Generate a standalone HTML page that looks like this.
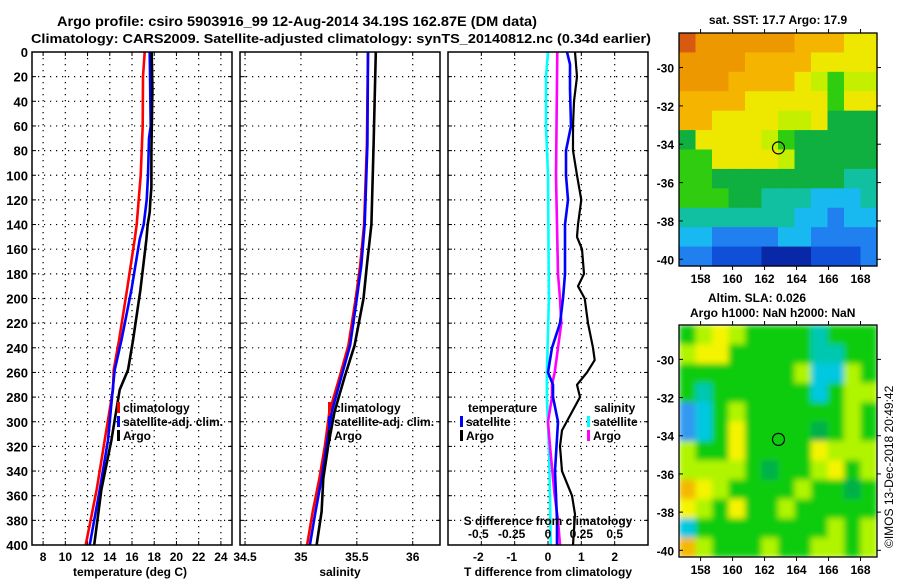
<!DOCTYPE html>
<html><head><meta charset="utf-8"><style>
body{margin:0;background:#fff;}
svg{display:block;font-family:"Liberation Sans",sans-serif;font-weight:bold;}
</style></head><body>
<svg id="c" width="900" height="580" viewBox="0 0 900 580">
<defs>
<filter id="bl" x="0" y="0" width="1" height="1"><feGaussianBlur stdDeviation="3" edgeMode="duplicate"/></filter>
<clipPath id="cm2"><rect x="679" y="325" width="198" height="232"/></clipPath>
</defs>
<text x="57" y="26" font-size="13.5" textLength="480" lengthAdjust="spacingAndGlyphs">Argo profile: csiro 5903916_99 12-Aug-2014 34.19S 162.87E (DM data)</text>
<text x="31" y="43" font-size="13" textLength="620" lengthAdjust="spacingAndGlyphs">Climatology: CARS2009. Satellite-adjusted climatology: synTS_20140812.nc (0.34d earlier)</text>
<text x="778" y="24" text-anchor="middle" font-size="12">sat. SST: 17.7 Argo: 17.9</text>
<text x="708" y="302" font-size="12">Altim. SLA: 0.026</text>
<text x="690" y="317" font-size="12">Argo h1000: NaN h2000: NaN</text>
<text transform="translate(893,548) rotate(-90)" font-size="12" font-weight="normal">©IMOS 13-Dec-2018 20:49:42</text>
<text x="130" y="576" text-anchor="middle" font-size="12">temperature (deg C)</text>
<text x="340" y="576" text-anchor="middle" font-size="12">salinity</text>
<text x="548" y="576" text-anchor="middle" font-size="12">T difference from climatology</text>
</svg>
<script>
// ---- depth / temperature profiles ----
const depthTick=[0,20,40,60,80,100,120,140,160,180,200,220,240,260,280,300,320,340,360,380,400];
const tempTicks=[8,10,12,14,16,18,20,22,24];
const salTicks=[34.5,35,35.5,36];
const salTickLabels=["34.5","35","35.5","36"];
const tdTicks=[-2,-1,0,1,2];
const sdTicks=[-0.5,-0.25,0,0.25,0.5];
const sdTickLabels=["-0.5","-0.25","0","0.25","0.5"];

const tArgoD=[0,30,80,110,120,130,140,152,193,234,258,274,315,355,400];
const tArgoV=[17.77,17.84,17.75,17.75,17.66,17.59,17.41,17.3,16.76,16.09,15.64,14.89,14.15,13.25,12.6];
const tSatD=[0,60,70,100,120,140,152,193,234,258,274,315,355,400];
const tSatV=[17.59,17.68,17.53,17.44,17.32,17.05,16.69,15.95,15.05,14.44,14.26,13.84,13.1,12.19];
const tClimD=[0,20,60,80,100,120,140,152,193,234,258,274,315,355,400];
const tClimV=[17.14,16.99,16.96,16.87,16.78,16.6,16.42,16.24,15.55,14.83,14.35,14.29,13.54,12.82,11.83];

const sD=[0,75,140,173,200,238,264,292,319,346,373,400];
const sArgoV=[35.67,35.65,35.63,35.59,35.56,35.48,35.39,35.3,35.245,35.2,35.185,35.14];
const sSatV=[35.6,35.595,35.57,35.54,35.5,35.44,35.36,35.275,35.23,35.185,35.13,35.08];
const sClimV=[35.6,35.59,35.565,35.53,35.49,35.425,35.345,35.255,35.215,35.165,35.105,35.055];

const tdArgoD=[0,20,40,60,80,100,120,140,150,160,180,190,200,220,240,250,260,270,280,307,320,340,360,375,400];
const tdArgoV=[0.81,0.87,0.78,0.75,0.75,0.87,1.0,0.9,0.87,1.02,1.08,0.9,1.1,1.2,1.35,1.4,1.17,0.87,0.96,0.42,0.36,0.42,0.72,0.81,0.75];
const tdSatD=[0,10,30,60,80,100,120,140,180,200,220,240,250,260,270,280,300,340,380,400];
const tdSatV=[0.57,0.66,0.66,0.69,0.54,0.54,0.6,0.51,0.51,0.45,0.36,0.12,0.06,0.0,0.15,0.15,0.3,0.21,0.27,0.27];
const sdSatD=[0,20,60,100,200,260,280,320,360,400];
const sdSatV=[0,-0.015,-0.015,0,0.007,-0.008,-0.008,0.007,0.015,0.02];
const sdArgoD=[0,100,180,200,220,240,260,270,280,300,320,360,380,400];
const sdArgoV=[0.07,0.06,0.075,0.09,0.1,0.075,0.05,0.03,0.03,0,0.015,0.05,0.075,0.09];

// ---- maps (cell colour codes) ----
const sstRows=["rooooooOOOyy","ooooOOOOyyyy","oooOOOOyYgYY","OOOOyyyyygyy","OOyyyyYYyGGG","GyyyyYgGGGGG","ggyyyyYGGGGG","ggGGGGGGGGtt","gggGGtttccct","tttttttccbcc","ccbbbbccbbbb","bbBBBnnnBBBb"];
const slaRows=["glylggggtggg","lyygggggttgg","ggggggglcclg","gtggggggcgll","bcglgggggglg","bcgyggggGglg","lggyggggylll","llllgGgglygl","oylgggglggGg","ylgygglggggg","cgggggggglgl","olggglggllgl"];
const sstPal={r:"#d85a10",o:"#ee9800",O:"#f5b400",y:"#eee800",Y:"#c4f000",g:"#30cc10",G:"#10b040",t:"#10c0a0",c:"#18b8f0",b:"#2080f0",B:"#1050d8",n:"#0828a8"};
const slaPal={g:"#10cc10",G:"#00b048",l:"#b0f400",y:"#f4f400",o:"#f4b800",t:"#00c8b0",c:"#00c8e0",b:"#3098f0"};
const argoLon=[162.87], argoLat=[-34.19];

const NS="http://www.w3.org/2000/svg";
const svg=document.getElementById('c');
function mk(t,a,p){const e=document.createElementNS(NS,t);for(const k in a)e.setAttribute(k,a[k]);(p||svg).appendChild(e);return e;}

const Y0=52,Y1=545;
function yD(d){return Y0+(d/400)*(Y1-Y0);}
function panel(x0,x1,xmin,xmax,name){
  const g=mk('g',{});
  
  
  return {g,x0,x1,sx:v=>x0+(v-xmin)/(xmax-xmin)*(x1-x0)};
}
const P1=panel(32,232,7,25,'temperature-panel');
const P2=panel(240,440,34.455,36.244,'salinity-panel');
const P3=panel(448,648,-3,3,'difference-panel');
function sdx(v){return P3.sx(v*4);}

function grid(P,xt){
  for(const d of depthTick){const y=yD(d);
    if(d>0&&d<400){const l=mk('line',{x1:P.x0,x2:P.x1,y1:y,y2:y,stroke:'#000','stroke-width':1.2,'stroke-dasharray':'1.2 4.8'},P.g);
    }
    mk('line',{x1:P.x0,x2:P.x0+4,y1:y,y2:y,stroke:'#000'},P.g);mk('line',{x1:P.x1-4,x2:P.x1,y1:y,y2:y,stroke:'#000'},P.g);
  }
  for(const v of xt){const x=P.sx(v);
    const l=mk('line',{x1:x,x2:x,y1:Y0,y2:Y1,stroke:'#000','stroke-width':1.2,'stroke-dasharray':'1.2 4.8'},P.g);
    
    mk('line',{x1:x,x2:x,y1:Y1-4,y2:Y1,stroke:'#000'},P.g);mk('line',{x1:x,x2:x,y1:Y0,y2:Y0+4,stroke:'#000'},P.g);}
}
grid(P1,tempTicks);grid(P2,salTicks);grid(P3,tdTicks);
function line(P,fx,D,V,col,w,name){
  const pts=D.map((d,i)=>fx(V[i]).toFixed(1)+','+yD(d).toFixed(1)).join(' ');
  const e=mk('polyline',{points:pts,fill:'none',stroke:col,'stroke-width':w,'stroke-linejoin':'round'},P.g);
  
}
line(P1,P1.sx,tClimD,tClimV,'#f00',2.6,'temp-climatology-line');
line(P1,P1.sx,tSatD,tSatV,'#00f',2.6,'temp-satellite-line');
line(P1,P1.sx,tArgoD,tArgoV,'#000',2.6,'temp-argo-line');
line(P2,P2.sx,sD,sClimV,'#f00',2.6,'sal-climatology-line');
line(P2,P2.sx,sD,sSatV,'#00f',2.6,'sal-satellite-line');
line(P2,P2.sx,sD,sArgoV,'#000',2.6,'sal-argo-line');
line(P3,sdx,sdSatD,sdSatV,'#0ff',2.6,'sdiff-satellite-line');
line(P3,sdx,sdArgoD,sdArgoV,'#f0f',2.6,'sdiff-argo-line');
line(P3,P3.sx,tdSatD,tdSatV,'#00f',2.6,'tdiff-satellite-line');
line(P3,P3.sx,tdArgoD,tdArgoV,'#000',2.2,'tdiff-argo-line');
for(const P of [P1,P2,P3]){const r=mk('rect',{x:P.x0,y:Y0,width:P.x1-P.x0,height:Y1-Y0,fill:'none',stroke:'#000','stroke-width':1.5},P.g);
  }
function txt(x,y,s,anchor,size,name,p){const e=mk('text',{x,y,'text-anchor':anchor,'font-size':size},p);e.textContent=s;
  return e;}
for(const d of depthTick)txt(28,yD(d)+5,String(d),'end',13,'y-tick-label',P1.g);
for(const v of tempTicks)txt(P1.sx(v),561,String(v),'middle',12,'x-tick-label',P1.g);
salTicks.forEach((v,i)=>txt(P2.sx(v),561,salTickLabels[i],'middle',12,'x-tick-label',P2.g));
for(const v of tdTicks)txt(P3.sx(v)-(v<0?3:0),561,String(v),'middle',12,'x-tick-label',P3.g);
sdTicks.forEach((v,i)=>txt(sdx(v)-(v<0?3:0),538,sdTickLabels[i],'middle',12,'s-tick-label',P3.g));
txt(548,525,'S difference from climatology','middle',12,'s-axis-title',P3.g);
function leg(x,y,col,s,name,p){const r=mk('rect',{x:x,y:y-10,width:3,height:11,fill:col},p);
  
  txt(x+6,y,s,'start',12,name,p);}
leg(117,412,'#f00','climatology','legend-climatology',P1.g);
leg(117,426,'#00f','satellite-adj. clim.','legend-satellite',P1.g);
leg(117,440,'#000','Argo','legend-argo',P1.g);
leg(328,412,'#f00','climatology','legend-climatology',P2.g);
leg(328,426,'#00f','satellite-adj. clim.','legend-satellite',P2.g);
leg(328,440,'#000','Argo','legend-argo',P2.g);
txt(468,412,'temperature','start',12,'legend-temperature-header',P3.g);
leg(460,426,'#00f','satellite','legend-t-satellite',P3.g);
leg(460,440,'#000','Argo','legend-t-argo',P3.g);
txt(594,412,'salinity','start',12,'legend-salinity-header',P3.g);
leg(587,426,'#0ff','satellite','legend-s-satellite',P3.g);
leg(587,440,'#f0f','Argo','legend-s-argo',P3.g);

// ---- maps ----
function map(rows,pal,x0,y0,w,h,name,blur){
  const g=mk('g',{});
  const inner=mk('g',blur?{filter:'url(#bl)'}:{},blur?mk('g',{'clip-path':'url(#cm2)'},g):g);
  const cw=w/12,ch=h/12;
  rows.forEach((r,i)=>{for(let j=0;j<12;j++){const c=pal[r[j]]||pal.g;
    const e=mk('rect',{x:x0+j*cw,y:y0+i*ch,width:cw+0.6,height:ch+0.6,fill:c},inner);
    }});
  const lonS=v=>x0+(v-156.65)/(169.03-156.65)*w, latS=v=>y0+(-28.2-v)/(12.15)*h;
  const ci=mk('circle',{cx:lonS(argoLon[0]),cy:latS(argoLat[0]),r:6,fill:'none',stroke:'#000','stroke-width':1.2},g);
  
  const fr=mk('rect',{x:x0,y:y0,width:w,height:h,fill:'none',stroke:'#000','stroke-width':1.3},g);
  
  for(let v=158;v<=168;v+=2){const x=lonS(v);txt(x,y0+h+17,String(v),'middle',12,'map-x-tick-label',g);
    mk('line',{x1:x,x2:x,y1:y0,y2:y0-4,stroke:'#000'},g);mk('line',{x1:x,x2:x,y1:y0+h,y2:y0+h+4,stroke:'#000'},g);}
  for(let v=-30;v>=-40;v-=2){const y=latS(v);txt(x0-5,y+5,String(v),'end',12,'map-y-tick-label',g);
    mk('line',{x1:x0,x2:x0+4,y1:y,y2:y,stroke:'#000'},g);mk('line',{x1:x0+w,x2:x0+w+4,y1:y,y2:y,stroke:'#000'},g);}
}
map(sstRows,sstPal,679,33,198,233,'sst-map',false);
map(slaRows,slaPal,679,325,198,232,'sla-map',true);
</script>
</body></html>
